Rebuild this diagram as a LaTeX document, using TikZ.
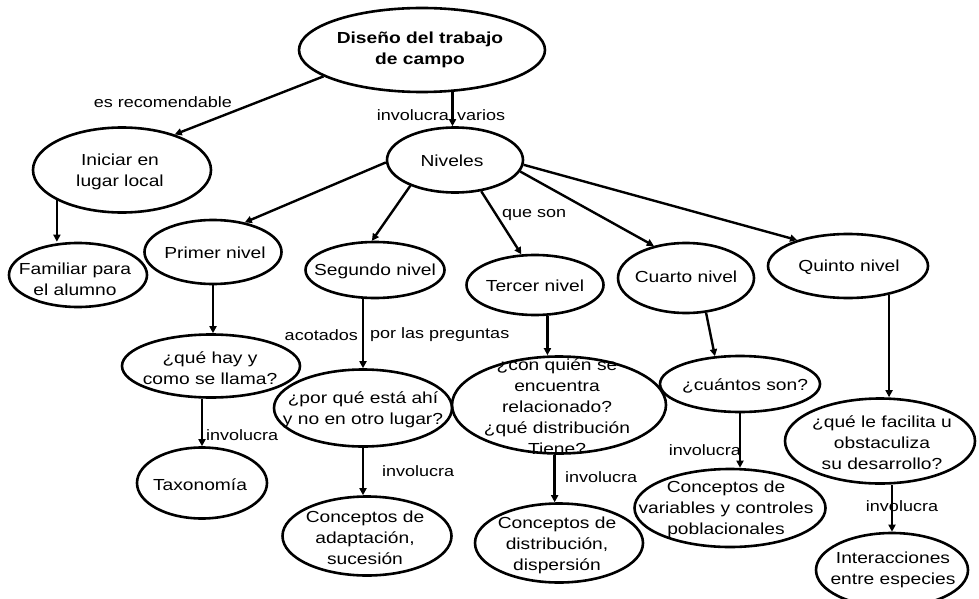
\documentclass[tikz,border=0pt]{standalone}
\usepackage{fontspec}
\setmainfont{Liberation Sans}[FakeStretch=1.2]
\usetikzlibrary{shapes.geometric,arrows.meta}
\newcommand{\mynodefont}{\fontsize{16}{21}\selectfont}
\newcommand{\mylabfont}{\fontsize{15}{19}\selectfont}
\tikzset{
  ell/.style={draw, ellipse, line width=2.6pt, inner sep=0pt},
  arr/.style={-{Triangle[length=7pt,width=7pt]}, line width=2.4pt},
  txt/.style={align=center, inner sep=0pt, font=\mynodefont},
  lab/.style={inner sep=0pt, font=\mylabfont}
}
\begin{document}
\begin{tikzpicture}[x=1pt,y=-1pt]
\useasboundingbox (0,0) rectangle (979,599);
% ellipses
\node[ell, minimum width=246pt, minimum height=84pt] (dis) at (422,50) {};
\node[ell, minimum width=136pt, minimum height=65pt] (niv) at (455,160) {};
\node[ell, minimum width=178pt, minimum height=85pt] (ini) at (122,170) {};
\node[ell, minimum width=138pt, minimum height=64pt] (fam) at (78,275) {};
\node[ell, minimum width=137pt, minimum height=64pt] (pri) at (213,252) {};
\node[ell, minimum width=139pt, minimum height=56pt] (seg) at (375,270) {};
\node[ell, minimum width=137pt, minimum height=60pt] (ter) at (535,285) {};
\node[ell, minimum width=136pt, minimum height=70pt] (cua) at (686,278) {};
\node[ell, minimum width=160pt, minimum height=64pt] (qui) at (848,266) {};
\node[ell, minimum width=178pt, minimum height=63pt] (qh) at (211,366) {};
\node[ell, minimum width=130pt, minimum height=71pt] (tax) at (202,483) {};
\node[ell, minimum width=178pt, minimum height=77pt] (pq) at (363,408) {};
\node[ell, minimum width=169pt, minimum height=79pt] (adap) at (367,536) {};
\node[ell, minimum width=214pt, minimum height=97pt] (cq) at (559,405) {};
\node[ell, minimum width=168pt, minimum height=79pt] (dist) at (559,543) {};
\node[ell, minimum width=160pt, minimum height=56pt] (cuan) at (740,384) {};
\node[ell, minimum width=191pt, minimum height=78pt] (var) at (730,508) {};
\node[ell, minimum width=190pt, minimum height=85pt] (fac) at (880,441) {};
\node[ell, minimum width=152pt, minimum height=74pt] (int) at (892,570) {};
% texts
\node[txt, font=\mynodefont\bfseries] (tdis) at (420,50) {Diseño del trabajo\\de campo};
\node[txt] (tniv) at (452,161) {Niveles};
\node[txt] (tini) at (120,172) {Iniciar en\\lugar local};
\node[txt] (tfam) at (75,279) {Familiar para\\el alumno};
\node[txt] (tpri) at (215,253) {Primer nivel};
\node[txt] (tseg) at (375,271) {Segundo nivel};
\node[txt] (tter) at (535,286) {Tercer nivel};
\node[txt] (tcua) at (686,277) {Cuarto nivel};
\node[txt] (tqui) at (849,267) {Quinto nivel};
\node[txt] (tqh) at (210,368) {¿qué hay y\\como se llama?};
\node[txt] (ttax) at (200,485) {Taxonomía};
\node[txt] (tpq) at (363,410) {¿por qué está ahí\\y no en otro lugar?};
\node[txt] (tadap) at (365,538) {Conceptos de\\adaptación,\\sucesión};
\node[txt] (tcq) at (557,407) {¿con quién se\\encuentra\\relacionado?\\¿qué distribución\\Tiene?};
\node[txt] (tdist) at (557,545) {Conceptos de\\distribución,\\dispersión};
\node[txt] (tcuan) at (745,386) {¿cuántos son?};
\node[txt] (tvar) at (726,509) {Conceptos de\\variables y controles\\poblacionales};
\node[txt] (tfac) at (882,443) {¿qué le facilita u\\obstaculiza\\su desarrollo?};
\node[txt] (tint) at (893,570) {Interacciones\\entre especies};
% connectors
\draw[arr] (dis.195) -- (ini.34);
\draw[arr] (dis.-54) -- (dis.-54 |- niv.north);
\draw[arr] (ini.-155) -- (ini.-155 |- fam.north);
\draw[arr] (niv.182) -- (pri.43);
\draw[arr] (niv.-150) -- (seg.96);
\draw[arr] (niv.-50) -- (ter.114);
\draw[arr] (niv.-10) -- (cua.135);
\draw[arr] (niv.-4) -- (qui.153);
\draw[arr] (pri.south) -- (pri.south |- qh.north);
\draw[arr] (qh.south -| tax.north) -- (tax.north);
\draw[arr] (seg.south -| pq.north) -- (pq.north);
\draw[arr] (pq.south) -- (pq.south |- adap.north);
\draw[arr] (ter.-68) -- (ter.-68 |- cq.north);
\draw[arr] (cq.-95) -- (cq.-95 |- dist.north);
\draw[arr] (cua.-60) -- (cuan.132);
\draw[arr] (cuan.south) -- (cuan.south |- var.north);
\draw[arr] (qui.-35) -- (qui.-35 |- fac.north);
\draw[arr] (fac.south -| int.north) -- (int.north);
% labels
\node[lab] (l1) at (163,102) {es recomendable};
\node[lab, anchor=east] (l2a) at (449,115) {involucra};
\node[lab, anchor=west] (l2b) at (457,115) {varios};
\node[lab, anchor=west] (l3) at (502,215) {que son};
\node[lab, anchor=east] (l4a) at (358,335) {acotados};
\node[lab, anchor=west] (l4b) at (370,335) {por las preguntas};
\node[lab, anchor=west] (l5) at (206,435) {involucra};
\node[lab, anchor=west] (l6) at (382,471) {involucra};
\node[lab, anchor=west] (l7) at (565,477) {involucra};
\node[lab, anchor=east] (l8) at (741,450) {involucra};
\node[lab] (l9) at (902,506) {involucra};
\end{tikzpicture}
\end{document}
